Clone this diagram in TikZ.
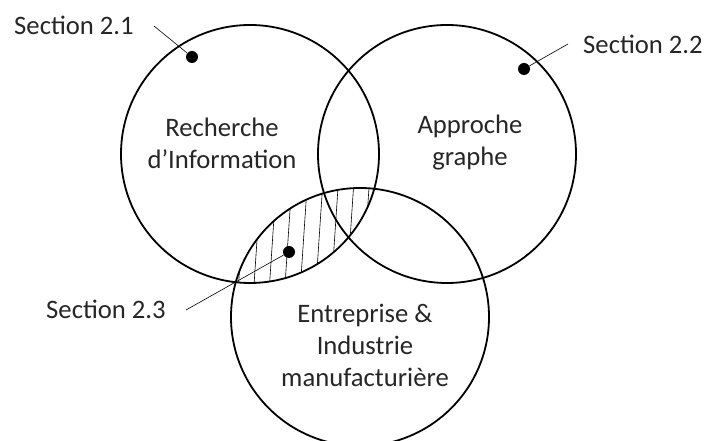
\documentclass[tikz,border=0pt]{standalone}
\usepackage{fontspec}
\setmainfont{Carlito}
\usetikzlibrary{positioning}

\begin{document}
\begin{tikzpicture}[x=0.75pt, y=-0.75pt,
    venncircle/.style={draw, circle, line width=1.35pt, minimum size=193.5pt, inner sep=0pt},
    secdot/.style={fill, circle, minimum size=9pt, inner sep=0pt},
    lbl/.style={font=\fontsize{20}{24}\selectfont, align=center, inner sep=0pt, text=black!85},
    leader/.style={line width=0.45pt}]
    \useasboundingbox (0,0) rectangle (708,441);
    \clip (0,0) rectangle (708,441);
    % the three domains
    \node[venncircle] (ri) at (250,154) {};
    \node[venncircle] (ag) at (447,154) {};
    \node[venncircle] (ei) at (360,317) {};
    % hatched overlap
    \begin{scope}
        \clip (250,154) circle (129);
        \clip (360,317) circle (129);
        \foreach \x in {222,237.5,...,392}
            \draw[leader] (\x,300) -- (\x+8,180);
    \end{scope}
    % texts
    \node[lbl] (tri) at (222,143) {Recherche\\d’Information};
    \node[lbl] (tag) at (470,143) {Approche\\graphe};
    \node[lbl] (tei) at (365,345) {Entreprise \&\\Industrie\\manufacturière};
    % sections
    \node[secdot] (s1) at (192,57) {};
    \node[secdot] (s2) at (524,69) {};
    \node[secdot] (s3) at (289,252) {};
    \node[lbl] (t1) at (74,25) {Section 2.1};
    \node[lbl] (t2) at (643,44) {Section 2.2};
    \node[lbl] (t3) at (106,309) {Section 2.3};
    \coordinate (c1) at (154,26);
    \coordinate (c2) at (568,44);
    \coordinate (c3) at (186,310);
    \draw[leader] (c1) -- (s1);
    \draw[leader] (c2) -- (s2);
    \draw[leader] (c3) -- (s3);
\end{tikzpicture}
\end{document}
